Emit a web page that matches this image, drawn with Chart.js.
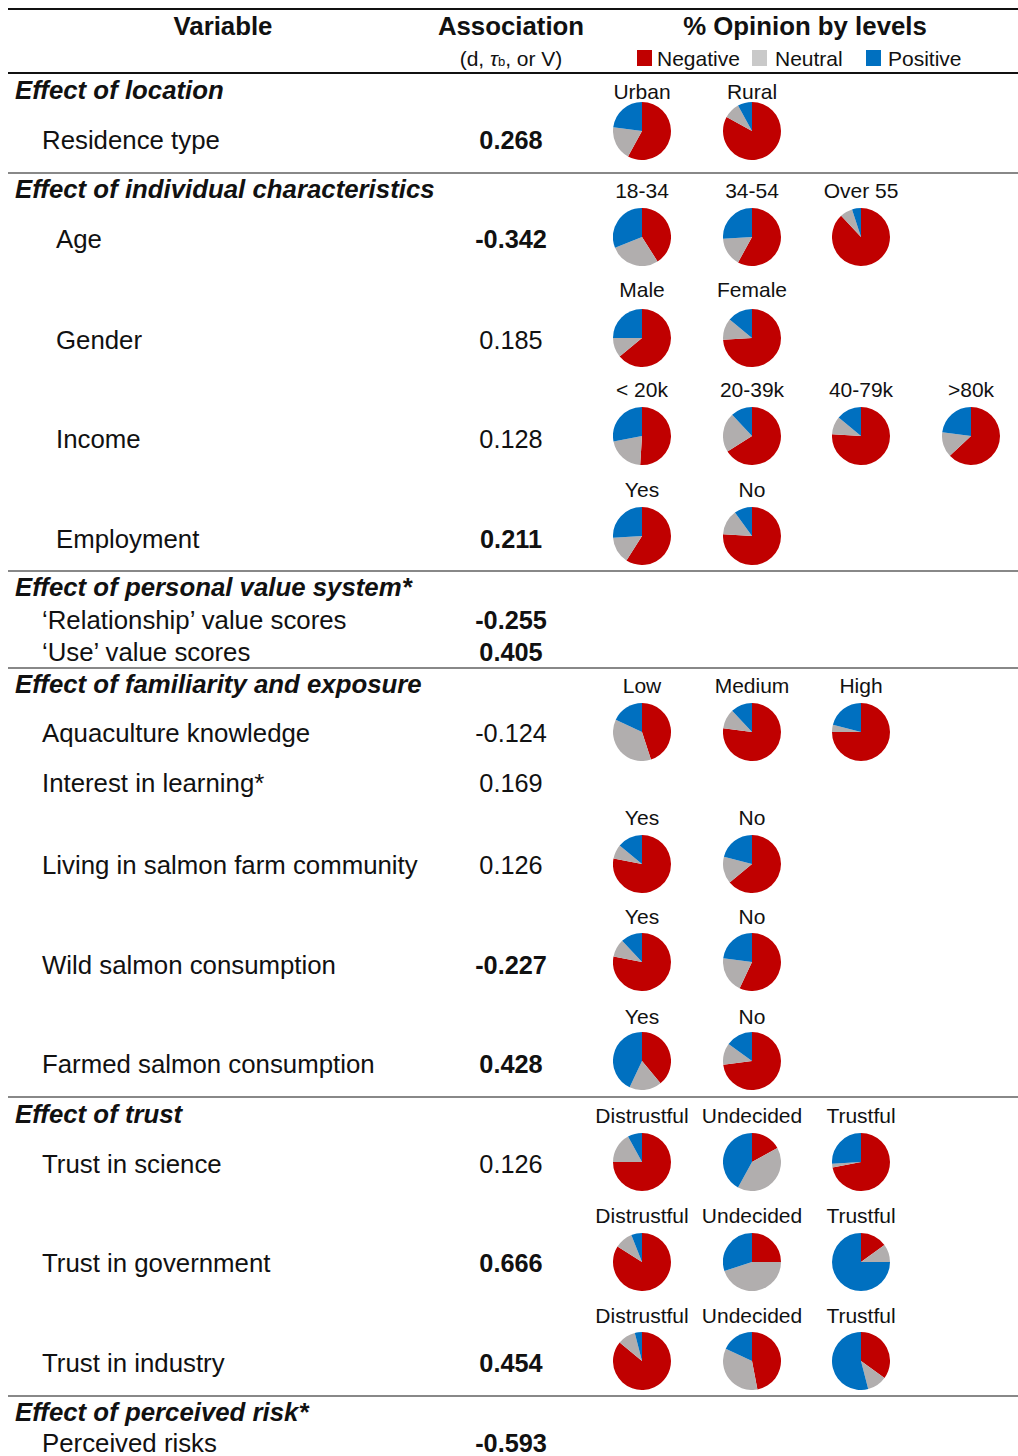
<!DOCTYPE html>
<html>
<head>
<meta charset="utf-8">
<script src="https://cdn.jsdelivr.net/npm/chart.js@4.4.1/dist/chart.umd.min.js"></script>
<style>
  html, body { margin: 0; padding: 0; background: #fff; }
  body { width: 1018px; height: 1456px; overflow: hidden; position: relative;
         font-family: "Liberation Sans", Arial, Helvetica, sans-serif; color: #111; }
  .t { position: absolute; white-space: nowrap; transform: translateY(-50%); line-height: 1; }
  .c { transform: translate(-50%, -50%); }
  .big { font-size: 25.8px; }
  .num { font-size: 25.3px; }
  .small { font-size: 21px; }
  .b { font-weight: bold; }
  .bi { font-weight: bold; font-style: italic; }
  .rule { position: absolute; left: 8px; width: 1010px; }
  .pie { position: absolute; width: 58px; height: 58px; }
  .sw { position: absolute; width: 15px; height: 16px; }
</style>
</head>
<body>
<script>
// Opinion shares (%) for each level of each variable: negative, neutral, positive
const levelLabels = [
  ['Urban', 'Rural'],
  ['18-34', '34-54', 'Over 55'],
  ['Male', 'Female'],
  ['< 20k', '20-39k', '40-79k', '>80k'],
  ['Yes', 'No'],
  ['Low', 'Medium', 'High'],
  ['Yes', 'No'],
  ['Yes', 'No'],
  ['Yes', 'No'],
  ['Distrustful', 'Undecided', 'Trustful'],
  ['Distrustful', 'Undecided', 'Trustful'],
  ['Distrustful', 'Undecided', 'Trustful']
];
const negative = [[58, 83], [41, 58, 88], [64, 74], [51, 66, 76, 63], [59, 76], [45, 77, 75],
                  [78, 64], [78, 57], [39, 73], [75, 17, 72], [84, 25, 15], [86, 47, 35]];
const neutral  = [[19, 9], [28, 16, 7], [11, 12], [21, 22, 10, 14], [15, 14], [37, 11, 4],
                  [8, 15], [10, 20], [18, 12], [17, 41, 2], [10, 45, 10], [10, 35, 11]];
const positive = [[23, 8], [31, 26, 5], [25, 14], [28, 12, 14, 23], [26, 10], [18, 12, 21],
                  [14, 21], [12, 23], [43, 15], [8, 42, 26], [6, 30, 75], [4, 18, 54]];

// Variables and their association statistic (bold = significant)
const sections = ['Effect of location', 'Effect of individual characteristics',
  'Effect of personal value system*', 'Effect of familiarity and exposure',
  'Effect of trust', 'Effect of perceived risk*'];
const variables = ['Residence type', 'Age', 'Gender', 'Income', 'Employment',
  '\u2018Relationship\u2019 value scores', '\u2018Use\u2019 value scores',
  'Aquaculture knowledge', 'Interest in learning*', 'Living in salmon farm community',
  'Wild salmon consumption', 'Farmed salmon consumption',
  'Trust in science', 'Trust in government', 'Trust in industry', 'Perceived risks'];
const association = ['0.268', '-0.342', '0.185', '0.128', '0.211', '-0.255', '0.405',
  '-0.124', '0.169', '0.126', '-0.227', '0.428', '0.126', '0.666', '0.454', '-0.593'];
const significant = [true, true, false, false, true, true, true,
  false, false, false, true, true, false, true, true, true];
const legendLabels = ['Negative', 'Neutral', 'Positive'];

// Layout
const COLORS = ['#C00000', '#B1AEAE', '#0070C0'];
const LEGEND_COLORS = ['#C00000', '#C9C9C9', '#0070C0'];
const sectionY = [91, 190, 588, 685, 1115, 1413];
const varY = [141, 240, 341, 440, 540, 621, 653, 734, 784, 866, 966, 1065, 1165, 1264, 1364, 1444];
const varX = [42, 56, 56, 56, 56, 42, 42, 42, 42, 42, 42, 42, 42, 42, 42, 42];
const ruleY = [{ y: 8, h: 2, c: '#111' }, { y: 72, h: 2, c: '#111' },
  { y: 172, h: 1.5, c: '#888' }, { y: 570, h: 1.5, c: '#888' }, { y: 667, h: 1.5, c: '#888' },
  { y: 1096, h: 1.5, c: '#888' }, { y: 1395, h: 1.5, c: '#888' }];
const pieColX = [642, 752, 861, 971];
const pieY = [131, 237, 338, 436, 536, 732, 864, 962, 1061, 1162, 1262, 1361];
const pieLabelY = [91, 190, 289, 389, 489, 685, 817, 916, 1016, 1115, 1215, 1315];
const ASSOC_X = 511;

function text(str, x, y, cls, centered) {
  const d = document.createElement('div');
  d.className = 't ' + cls + (centered ? ' c' : '');
  d.style.left = x + 'px';
  d.style.top = y + 'px';
  d.textContent = str;
  document.body.appendChild(d);
  return d;
}

// Rules
ruleY.forEach(r => {
  const d = document.createElement('div');
  d.className = 'rule';
  d.style.top = r.y + 'px';
  d.style.height = r.h + 'px';
  d.style.background = r.c;
  document.body.appendChild(d);
});

// Header
text('Variable', 223, 27, 'big b', true);
text('Association', ASSOC_X, 27, 'big b', true);
text('% Opinion by levels', 805, 27, 'big b', true);
const sub = text('', ASSOC_X, 58, 'small', true);
sub.innerHTML = '(d, <i>\u03c4</i><span style="font-size:13px">b</span>, or V)';
const swX = [637, 752, 866];
const swTextX = [657, 775, 888];
legendLabels.forEach((lab, i) => {
  const s = document.createElement('div');
  s.className = 'sw';
  s.style.left = swX[i] + 'px';
  s.style.top = '50px';
  s.style.background = LEGEND_COLORS[i];
  document.body.appendChild(s);
  text(lab, swTextX[i], 58, 'small', false);
});

// Section headings, variables and association values
sections.forEach((s, i) => text(s, 15, sectionY[i], 'big bi', false));
variables.forEach((v, i) => {
  text(v, varX[i], varY[i], 'big', false);
  text(association[i], ASSOC_X, varY[i], 'num' + (significant[i] ? ' b' : ''), true);
});

// Pie charts, one per level
levelLabels.forEach((levels, r) => {
  levels.forEach((lab, j) => {
    text(lab, pieColX[j], pieLabelY[r], 'small', true);
    const box = document.createElement('div');
    box.className = 'pie';
    box.style.left = (pieColX[j] - 29) + 'px';
    box.style.top = (pieY[r] - 29) + 'px';
    const cv = document.createElement('canvas');
    cv.width = 58; cv.height = 58;
    box.appendChild(cv);
    document.body.appendChild(box);
    new Chart(cv.getContext('2d'), {
      type: 'pie',
      data: {
        labels: legendLabels,
        datasets: [{
          data: [negative[r][j], neutral[r][j], positive[r][j]],
          backgroundColor: COLORS,
          borderWidth: 0
        }]
      },
      options: {
        responsive: false,
        animation: false,
        devicePixelRatio: 1,
        events: [],
        layout: { padding: 0 },
        plugins: { legend: { display: false }, tooltip: { enabled: false } }
      }
    });
  });
});
</script>
</body>
</html>
